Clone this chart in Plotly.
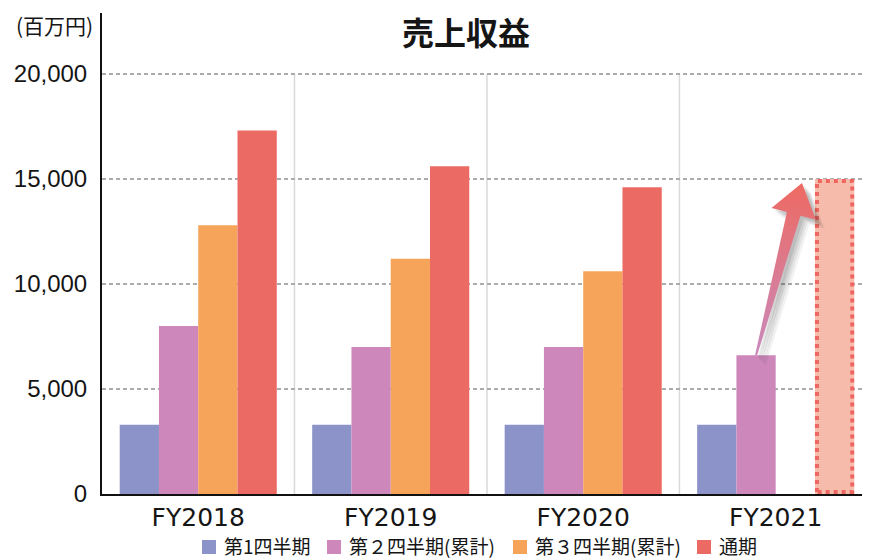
import math
import plotly.graph_objects as go

# ---------------- data ----------------
categories = ["FY2018", "FY2019", "FY2020", "FY2021"]
q1 = [3300, 3300, 3300, 3300]
q2 = [8000, 7000, 7000, 6600]
q3 = [12800, 11200, 10600, None]
full_year = [17300, 15600, 14600, None]
forecast = [None, None, None, 15000]
y_ticks = [0, 5000, 10000, 15000, 20000]
series_names = ["第1四半期", "第２四半期(累計)", "第３四半期(累計)", "通期"]

# ---------------- style ----------------
colors = ["#8c93c9", "#cd87bb", "#f5a45a", "#ec6a64"]
forecast_fill = "#f6bbab"
forecast_line = "#ee6660"
arrow_low = "#c98abd"
arrow_high = "#ee6a62"
txt = "#151515"
JP = "Noto Sans CJK JP"
NUMY = "Liberation Sans"
NUMX = "DejaVu Sans"

# page has an 8px body margin -> figure is sized/positioned to compensate
W, H = 862, 552
ML, MR, MT, MB = 94, 0, 5, 66
XR = [-0.5, 3.49]
YR = [0, 22900]
BARGAP = 0.184
PW, PH = W - ML - MR, H - MT - MB
PX = PW / (XR[1] - XR[0])
PY = PH / (YR[1] - YR[0])

# legend layout (figure pixels): left edge of each swatch, row centre
LEG_X = [194, 319, 505, 689]
LEG_Y = 537
SW = 14
TXT_GAP = 21

x = list(range(len(categories)))
fig = go.Figure()

full_vals = [f if f is not None else fc for f, fc in zip(full_year, forecast)]
full_colors = [colors[3] if f is not None else forecast_fill for f in full_year]

for name, vals, col in zip(series_names, [q1, q2, q3, full_vals], colors):
    mc = full_colors if vals is full_vals else col
    fig.add_trace(go.Bar(x=x, y=vals, name=name, marker=dict(color=mc, line=dict(width=0)),
                         hoverinfo="skip", showlegend=False))

# forecast bar: dotted border, derived from bar slot geometry
fi = forecast.index(next(v for v in forecast if v is not None))
fc = forecast[fi]
w = (1 - BARGAP) / 4
left = fi - (1 - BARGAP) / 2 + 3 * w
right = left + w
ix, iy = 2 / PX, 2 / PY
fig.add_trace(go.Scatter(
    x=[left + ix, left + ix, right - ix, right - ix, left + ix],
    y=[iy, fc - iy, fc - iy, iy, iy],
    mode="lines", line=dict(color=forecast_line, width=4, dash="dot"),
    showlegend=False, hoverinfo="skip"))

# arrow from Q2 bar top to forecast bar
tail_x = fi - (1 - BARGAP) / 2 + 1.5 * w
tail_y = q2[fi]
tip_x = left - 13 / PX
tip_y = fc - 4 / PY
dxp = (tip_x - tail_x) * PX
dyp = (tip_y - tail_y) * PY
L = math.hypot(dxp, dyp)
ux, uy = dxp / L, dyp / L
nx, ny = uy, -ux
head_len, head_half, shaft_tail, shaft_head = 32, 23, 1.0, 7.0
bx, by = dxp - head_len * ux, dyp - head_len * uy
pts = [
    (-shaft_tail * nx, -shaft_tail * ny),
    (bx - shaft_head * nx, by - shaft_head * ny),
    (bx - head_half * nx, by - head_half * ny),
    (dxp, dyp),
    (bx + head_half * nx, by + head_half * ny),
    (bx + shaft_head * nx, by + shaft_head * ny),
    (shaft_tail * nx, shaft_tail * ny),
]
pts.append(pts[0])


def to_data(p, ox=0.0, oy=0.0):
    return tail_x + (p[0] + ox) / PX, tail_y + (p[1] + oy) / PY


for off, alpha in [(9, 0.06), (7, 0.08), (5, 0.10), (3, 0.10)]:
    sx, sy = zip(*[to_data(p, off, -off) for p in pts])
    fig.add_trace(go.Scatter(x=sx, y=sy, mode="lines", fill="toself",
                             fillcolor=f"rgba(40,40,40,{alpha})", line=dict(width=0),
                             showlegend=False, hoverinfo="skip"))

ax_, ay_ = zip(*[to_data(p) for p in pts])
fig.add_trace(go.Scatter(
    x=ax_, y=ay_, mode="lines", fill="toself", line=dict(width=0, color=arrow_high),
    fillgradient=dict(type="vertical", colorscale=[[0, arrow_low], [1, arrow_high]],
                      start=tail_y, stop=tip_y),
    showlegend=False, hoverinfo="skip"))

# group separators
shapes = []
for i in range(len(categories) - 1):
    shapes.append(dict(type="line", xref="x", yref="y", x0=i + 0.5, x1=i + 0.5,
                       y0=0, y1=y_ticks[-1], line=dict(color="#d9d9d9", width=1.5),
                       layer="below"))


def px2paper_x(fx):
    return (fx - ML) / PW


def px2paper_y(fy):
    return ((H - MB) - fy) / PH


annotations = [dict(text="(百万円)", xref="paper", yref="paper", x=0, y=1,
                    xanchor="right", yanchor="middle", xshift=-7, yshift=-12,
                    showarrow=False, font=dict(family=JP, size=21, color=txt))]

# legend (swatch + label per series)
for name, col, lx in zip(series_names, colors, LEG_X):
    shapes.append(dict(type="rect", xref="paper", yref="paper",
                       x0=px2paper_x(lx), x1=px2paper_x(lx + SW),
                       y0=px2paper_y(LEG_Y + 2 + SW / 2), y1=px2paper_y(LEG_Y + 2 - SW / 2),
                       fillcolor=col, line=dict(width=0)))
    annotations.append(dict(text=name, xref="paper", yref="paper",
                            x=px2paper_x(lx + TXT_GAP), y=px2paper_y(LEG_Y),
                            xanchor="left", yanchor="middle", showarrow=False,
                            borderpad=0,
                            font=dict(family=JP, size=19, color=txt)))

fig.update_layout(
    width=W, height=H,
    margin=dict(l=ML, r=MR, t=MT, b=MB, autoexpand=False),
    paper_bgcolor="white", plot_bgcolor="white",
    barmode="group", bargap=BARGAP, bargroupgap=0,
    showlegend=False,
    title=dict(text="<b>売上収益</b>", font=dict(family=JP, size=32, color=txt),
               xref="container", x=458 / W, xanchor="center",
               yref="container", y=1 - 26 / H, yanchor="middle"),
    xaxis=dict(range=XR, tickvals=x, ticktext=categories, showgrid=False,
               zeroline=False, showline=True, linecolor="#111", linewidth=2,
               ticks="", tickfont=dict(family=NUMX, size=25, color=txt),
               ticklabelstandoff=0, fixedrange=True),
    yaxis=dict(range=YR, tickvals=y_ticks, tickformat=",", showgrid=True,
               gridcolor="#ababab", gridwidth=1.5, griddash="4px,3px",
               zeroline=False, showline=True, linecolor="#111", linewidth=2,
               ticks="", tickfont=dict(family=NUMY, size=24, color=txt),
               ticklabelstandoff=8, fixedrange=True),
    shapes=shapes,
    annotations=annotations,
)

fig.write_html("out.html")
